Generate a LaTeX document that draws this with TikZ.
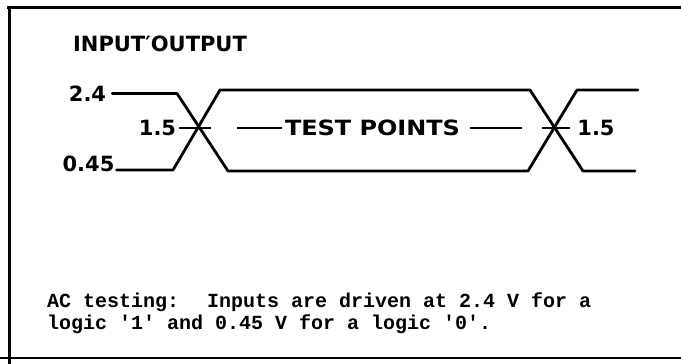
\documentclass[tikz,border=0pt]{standalone}
\usepackage{fontspec}
\usepackage{graphicx}
\newfontfamily\labfont{DejaVu Sans}
\newfontfamily\notefont{Liberation Mono}
\begin{document}
\begin{tikzpicture}[x=1pt,y=-1pt,
  lab/.style={font=\labfont\bfseries\fontsize{21}{21}\selectfont, inner sep=0pt},
  note/.style={font=\notefont\bfseries\fontsize{20}{22}\selectfont, inner sep=0pt, anchor=base west},
  wave/.style={line width=2.8pt, line join=round, line cap=round},
  frame/.style={line width=3pt},
  tickline/.style={line width=2.2pt}]
\useasboundingbox (0,0) rectangle (681,364);
% frame
\draw[frame] (7,7) -- (681,7);
\draw[frame] (9,7) -- (9,364);
\draw[line width=2pt] (0,358) -- (681,358);
% labels
\node[lab] (io) at (160,44) {INPUT′OUTPUT};
\node[lab] (v24) at (87.5,93.5) {2.4};
\node[lab] (v15l) at (157.5,128) {1.5};
\node[lab] (v045) at (88.5,164) {0.45};
\node[lab] (tp) at (372.5,128) {\scalebox{1.14}[1]{TEST POINTS}};
\node[lab] (v15r) at (596,128) {1.5};
% waveform corners
\coordinate (a1) at (177,93.5);
\coordinate (a2) at (228,171);
\coordinate (a3) at (528,171);
\coordinate (a4) at (577,90);
\coordinate (a5) at (638,90);
\coordinate (b1) at (173,170);
\coordinate (b2) at (220,90);
\coordinate (b3) at (530,90);
\coordinate (b4) at (583,171);
\coordinate (b5) at (635,171);
\draw[wave] ([xshift=6pt]v24.east) -- (a1) -- (a2) -- (a3) -- (a4) -- (a5);
\draw[wave] ([xshift=2pt]v045.east |- b1) -- (b1) -- (b2) -- (b3) -- (b4) -- (b5);
% test-point ticks and dashes
\draw[tickline] ([xshift=3pt]v15l.east) -- ++(32,0);
\draw[tickline] ([xshift=-7pt]v15r.west) -- ++(-28,0);
\draw[tickline] ([xshift=-3pt]tp.west) -- ++(-45,0);
\draw[tickline] ([xshift=10pt]tp.east) -- ++(52,0);
% note
\node[note] (n1) at (47,307) {AC testing:~ Inputs are driven at 2.4 V for a};
\node[note] (n2) at (47,329.5) {logic \textquotesingle1\textquotesingle{} and 0.45 V for a logic \textquotesingle0\textquotesingle.};
\end{tikzpicture}
\end{document}
